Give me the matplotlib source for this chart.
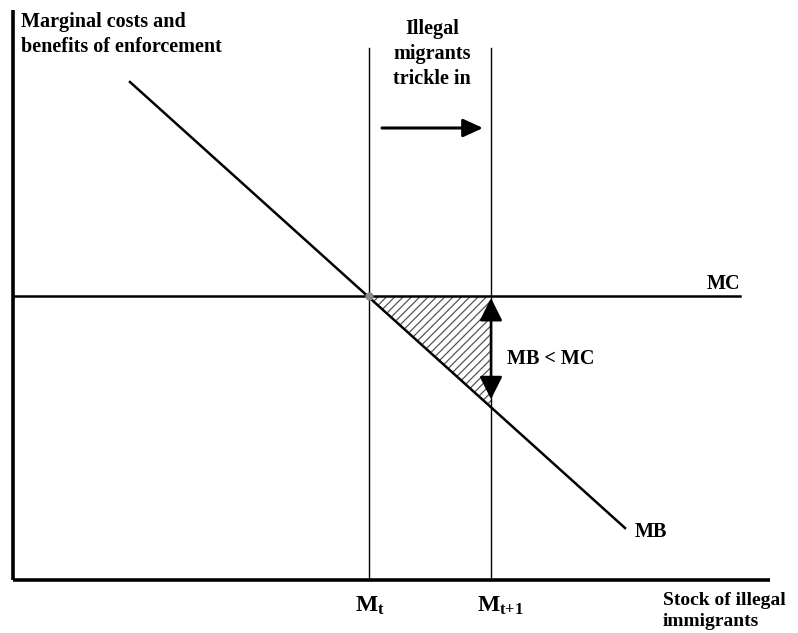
import matplotlib
matplotlib.use("Agg")
import matplotlib.pyplot as plt
from matplotlib.patches import Polygon

# ---- data (units: stock of migrants on x, marginal cost/benefit on y) ----
mb_x = [117, 612]          # marginal benefit line endpoints (x)
mb_y = [498, 52]           # marginal benefit line endpoints (y)
mc_level = 284             # marginal cost (flat)
mc_xmax = 727
m_t = 356                  # M_t
m_t1 = 478                 # M_{t+1}
x_max = 757
y_max = 570
vline_top = 532

x_tick_labels = [r"$\mathbf{M_t}$", r"$\mathbf{M_{t{+}1}}$"]

FONT = "Liberation Serif"
fs = 14.5

plt.rcParams["mathtext.fontset"] = "custom"
plt.rcParams["mathtext.rm"] = FONT
plt.rcParams["mathtext.bf"] = FONT + ":bold"
plt.rcParams["mathtext.it"] = FONT + ":italic"
plt.rcParams["hatch.color"] = "#555555"
plt.rcParams["hatch.linewidth"] = 0.9

fig = plt.figure(figsize=(7.98, 6.33), dpi=100)
ax = fig.add_axes([0, 0, 1, 1])
ax.set_xlim(-13, 785)
ax.set_ylim(-53, 580)
ax.axis("off")

def mb(x):
    s = (mb_y[1] - mb_y[0]) / (mb_x[1] - mb_x[0])
    return mb_y[0] + s * (x - mb_x[0])

# axes
ax.plot([0, 0], [0, y_max], color="black", lw=2.6, solid_capstyle="butt")
ax.plot([0, x_max], [0, 0], color="black", lw=2.6, solid_capstyle="butt")

# hatched triangle
tri = Polygon([[m_t, mc_level], [m_t1, mc_level], [m_t1, mb(m_t1)]],
              closed=True, facecolor="white", edgecolor="#555555",
              hatch="////", lw=0)
ax.add_patch(tri)

# MC line
ax.plot([0, mc_xmax], [mc_level, mc_level], color="black", lw=1.8)
# vertical lines
ax.plot([m_t, m_t], [0, vline_top], color="black", lw=1.0)
ax.plot([m_t1, m_t1], [0, vline_top], color="black", lw=1.0)
# MB line
ax.plot(mb_x, mb_y, color="black", lw=1.8)
# intersection dot
ax.plot([m_t], [mc_level], "o", color="#888888", ms=5, zorder=5)

# trickle-in arrow
ax.annotate("", xy=(m_t1 - 8, 452), xytext=(m_t + 13, 452),
            arrowprops=dict(arrowstyle="-|>,head_length=1.2,head_width=0.55",
                            color="black", lw=2.2, shrinkA=0, shrinkB=0))
ax.text((m_t + m_t1) / 2 + 2, 561, "Illegal\nmigrants\ntrickle in", ha="center", va="top",
        fontsize=fs, fontweight="bold", family=FONT, linespacing=1.33)

# double arrow MB<MC
y_low = mb(m_t1)
mid = (mc_level + y_low) / 2
ax.annotate("", xy=(m_t1, mc_level - 2), xytext=(m_t1, mid),
            arrowprops=dict(arrowstyle="-|>,head_length=1.4,head_width=0.7",
                            color="black", lw=1.8, shrinkA=0, shrinkB=0))
ax.annotate("", xy=(m_t1, y_low + 8), xytext=(m_t1, mid),
            arrowprops=dict(arrowstyle="-|>,head_length=1.4,head_width=0.7",
                            color="black", lw=1.8, shrinkA=0, shrinkB=0))
ax.text(m_t1 + 16, 221, "MB < MC", ha="left", va="center",
        fontsize=fs, fontweight="bold", family=FONT)

# labels
ax.text(mc_xmax, mc_level + 2, "MC", ha="right", va="bottom",
        fontsize=fs, fontweight="bold", family=FONT)
ax.text(mb_x[1] + 10, mb_y[1] - 4, "MB", ha="left", va="center",
        fontsize=fs, fontweight="bold", family=FONT)
ax.text(8, 568, "Marginal costs and\nbenefits of enforcement", ha="left", va="top",
        fontsize=fs, fontweight="bold", family=FONT, linespacing=1.3)
ax.text(650, -12, "Stock of illegal\nimmigrants", ha="left", va="top",
        fontsize=14, fontweight="bold", family=FONT, linespacing=1.3)

for xv, lab in zip([m_t, m_t1], x_tick_labels):
    ax.text(xv - 14, -26, lab, ha="left", va="center", fontsize=fs + 2.5, family=FONT)

fig.savefig("out.png", dpi=100)
